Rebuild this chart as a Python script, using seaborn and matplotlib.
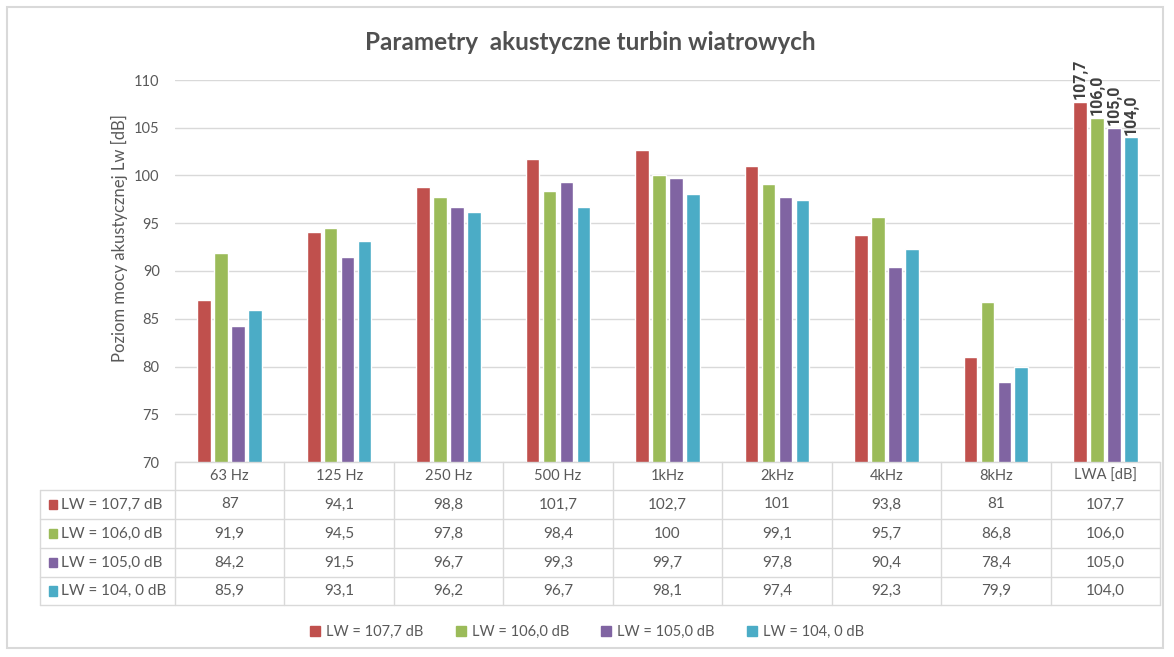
import matplotlib.pyplot as plt
import pandas as pd
import seaborn as sns
from matplotlib.patches import Rectangle
from matplotlib.lines import Line2D

# data
categories = ["63 Hz", "125 Hz", "250 Hz", "500 Hz", "1kHz", "2kHz", "4kHz", "8kHz", "LWA [dB]"]
series = ["LW = 107,7 dB", "LW = 106,0 dB", "LW = 105,0 dB", "LW = 104, 0 dB"]
lw_1077 = [87, 94.1, 98.8, 101.7, 102.7, 101, 93.8, 81, 107.7]
lw_1060 = [91.9, 94.5, 97.8, 98.4, 100, 99.1, 95.7, 86.8, 106.0]
lw_1050 = [84.2, 91.5, 96.7, 99.3, 99.7, 97.8, 90.4, 78.4, 105.0]
lw_1040 = [85.9, 93.1, 96.2, 96.7, 98.1, 97.4, 92.3, 79.9, 104.0]
colors = ["#C0504D", "#9BBB59", "#8064A2", "#4BACC6"]

values = [lw_1077, lw_1060, lw_1050, lw_1040]
rows = []
for name, vals in zip(series, values):
    for cat, v in zip(categories, vals):
        rows.append({"freq": cat, "value": v, "series": name})
df = pd.DataFrame(rows)

sns.set_theme(style="whitegrid")
plt.rcParams['font.family'] = ['Lato', 'DejaVu Sans']
grey = "#595959"
line_c = "#D9D9D9"

W, H = 1174, 657
fig = plt.figure(figsize=(W / 100, H / 100), dpi=100)
x0, x1, ytop, ybot = 175, 1160, 80, 462
ax = fig.add_axes([x0 / W, 1 - ybot / H, (x1 - x0) / W, (ybot - ytop) / H])

sns.barplot(data=df, x="freq", y="value", hue="series", hue_order=series,
            order=categories, palette=colors, width=0.62, gap=0.2,
            saturation=1, legend=False, ax=ax)

ax.set_ylim(70, 110)
ax.set_xlim(-0.5, len(categories) - 0.5)
ax.set_yticks(range(70, 111, 5))
ax.grid(axis="y", color=line_c, linewidth=1)
ax.grid(axis="x", visible=False)
for s in ax.spines.values():
    s.set_visible(False)
ax.tick_params(axis="y", length=0, pad=11, labelsize=10.5, labelcolor=grey)
ax.tick_params(axis="x", length=0, labelbottom=False)
ax.set_xlabel("")
ax.set_ylabel("")
fig.text(119 / W, 1 - 238 / H, "Poziom mocy akustycznej Lw [dB]", rotation=90,
         ha="center", va="center", color=grey, fontsize=12)

# labels on the LWA group
for cont, vals in zip(ax.containers, values):
    labs = [""] * (len(categories) - 1) + [f"{vals[-1]:.1f}".replace(".", ",")]
    ax.bar_label(cont, labels=labs, rotation=90, padding=2, fontsize=11.5,
                 fontweight="bold", color="#404040", fontstretch="condensed",
                 family=["Roboto", "DejaVu Sans"])

# data table under the axis
tr = ax.get_xaxis_transform()
def yax(p):
    return (ybot - p) / (ybot - ytop)
row_edges = [462, 490, 519, 548, 577, 605]
lab_left = -0.5 - (x0 - 40) / ((x1 - x0) / len(categories))
n = len(categories)
for k in range(n + 1):
    ax.add_line(Line2D([k - 0.5] * 2, [yax(462), yax(605)], transform=tr,
                       color=line_c, lw=1, clip_on=False))
ax.add_line(Line2D([lab_left] * 2, [yax(490), yax(605)], transform=tr,
                   color=line_c, lw=1, clip_on=False))
for i, p in enumerate(row_edges):
    xs = -0.5 if i == 0 else lab_left
    ax.add_line(Line2D([xs, n - 0.5], [yax(p)] * 2, transform=tr,
                       color=line_c, lw=1, clip_on=False))
for k, cat in enumerate(categories):
    ax.text(k, yax(476), cat, transform=tr, ha="center", va="center",
            fontsize=10.5, color=grey, clip_on=False)


def fmt(v, last):
    s = f"{v:.1f}" if last else f"{v:g}"
    return s.replace(".", ",")


for r, (name, vals, c) in enumerate(zip(series, values, colors)):
    yc = yax((row_edges[r + 1] + row_edges[r + 2]) / 2)
    for k, v in enumerate(vals):
        ax.text(k, yc, fmt(v, k == n - 1), transform=tr, ha="center", va="center",
                fontsize=11, color=grey, clip_on=False)
    ax.add_patch(Rectangle((lab_left + 0.08, yc - 0.012), 0.075, 0.024, transform=tr,
                           color=c, clip_on=False))
    ax.text(lab_left + 0.19, yc, name, transform=tr, ha="left", va="center",
            fontsize=11, color=grey, clip_on=False)

# legend
handles = [Rectangle((0, 0), 1, 1, color=c) for c in colors]
fig.legend(handles, series, loc="center", bbox_to_anchor=(0.5, 1 - 632 / H), ncol=4,
           frameon=False, fontsize=10.5, labelcolor=grey, handlelength=0.7,
           handleheight=0.7, handletextpad=0.4, columnspacing=2.2)

fig.text(0.503, 1 - 42 / H, "Parametry  akustyczne turbin wiatrowych", ha="center",
         va="center", fontsize=17.5, fontweight="bold", color="#505050")

fig.patches.append(Rectangle((7 / W, 1 - 648 / H), 1156 / W, 641 / H,
                             transform=fig.transFigure, fill=False,
                             edgecolor=line_c, lw=1.5))

fig.savefig("out.png", dpi=100)
